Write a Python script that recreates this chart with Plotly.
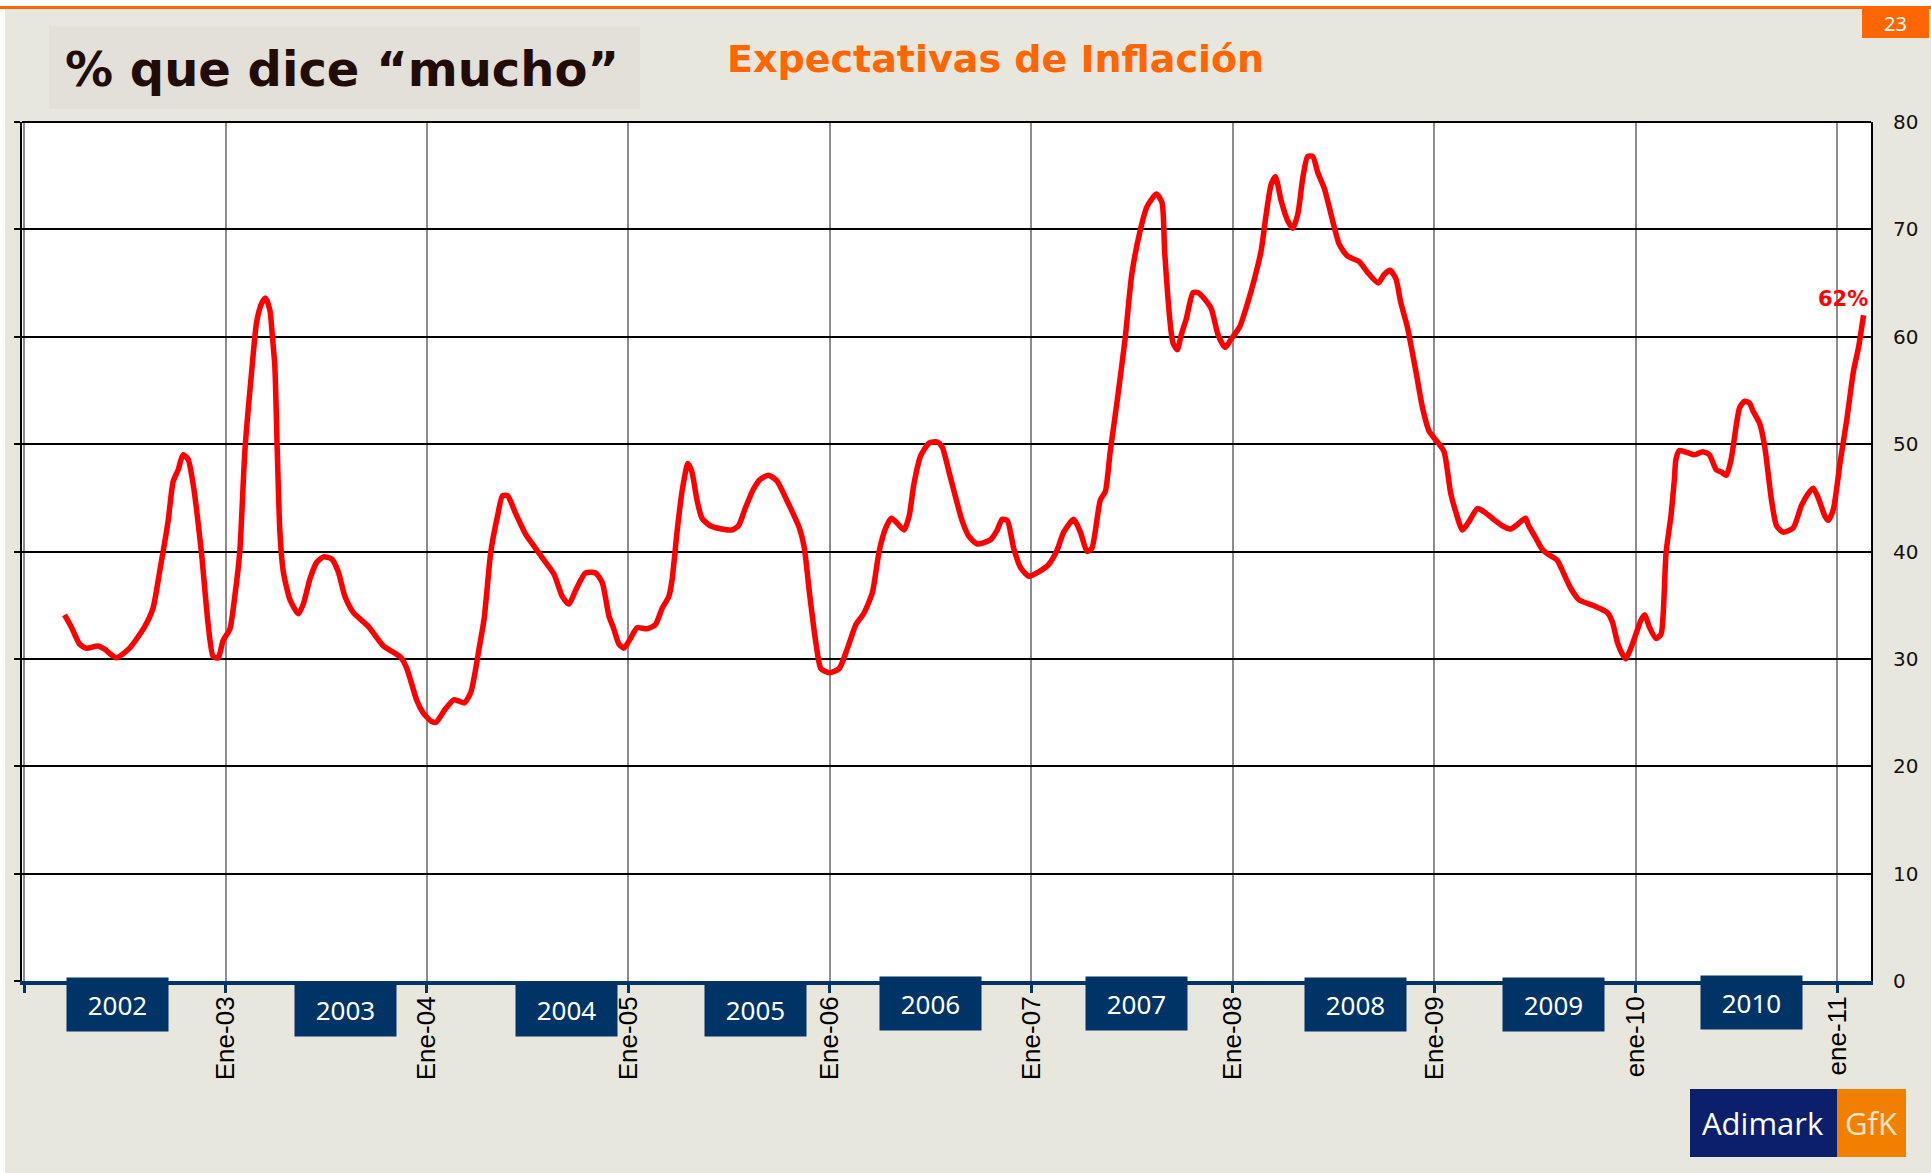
import plotly.graph_objects as go

# ---------------- data (decimal year, % que dice "mucho") ----------------
fecha = [
    2002.201, 2002.234, 2002.275, 2002.308, 2002.366, 2002.400, 2002.458, 2002.524, 2002.599, 2002.640, 2002.673, 2002.715, 2002.740, 2002.765, 2002.789, 2002.814, 2002.839, 2002.880, 2002.914, 2002.939, 2002.964, 2002.988,
    2003.022, 2003.046, 2003.071, 2003.096, 2003.130, 2003.154, 2003.179, 2003.199, 2003.221, 2003.232, 2003.245, 2003.257, 2003.270, 2003.287, 2003.320, 2003.362, 2003.386, 2003.420, 2003.453, 2003.486, 2003.527, 2003.560, 2003.593, 2003.635, 2003.710, 2003.784, 2003.867, 2003.900, 2003.950, 2003.980,
    2004.020, 2004.045, 2004.086, 2004.135, 2004.185, 2004.218, 2004.259, 2004.284, 2004.317, 2004.350, 2004.375, 2004.400, 2004.441, 2004.490, 2004.531, 2004.573, 2004.630, 2004.672, 2004.705, 2004.738, 2004.787, 2004.837, 2004.870, 2004.903, 2004.927, 2004.952, 2004.977,
    2005.010, 2005.043, 2005.092, 2005.134, 2005.167, 2005.200, 2005.216, 2005.241, 2005.266, 2005.295, 2005.315, 2005.340, 2005.365, 2005.406, 2005.464, 2005.513, 2005.546, 2005.579, 2005.620, 2005.653, 2005.695, 2005.736, 2005.785, 2005.848, 2005.873, 2005.898, 2005.931, 2005.955, 2005.997,
    2006.046, 2006.087, 2006.129, 2006.170, 2006.211, 2006.244, 2006.277, 2006.305, 2006.335, 2006.368, 2006.393, 2006.417, 2006.450, 2006.492, 2006.533, 2006.558, 2006.591, 2006.616, 2006.657, 2006.690, 2006.731, 2006.797, 2006.830, 2006.855, 2006.880, 2006.912, 2006.946, 2006.987,
    2007.036, 2007.086, 2007.127, 2007.160, 2007.210, 2007.243, 2007.276, 2007.300, 2007.342, 2007.367, 2007.391, 2007.424, 2007.465, 2007.498, 2007.540, 2007.573, 2007.620, 2007.648, 2007.661, 2007.678, 2007.695, 2007.703, 2007.724, 2007.744, 2007.769, 2007.802, 2007.827, 2007.860, 2007.893, 2007.926, 2007.962, 2007.992,
    2008.033, 2008.074, 2008.107, 2008.140, 2008.165, 2008.190, 2008.211, 2008.239, 2008.272, 2008.297, 2008.322, 2008.347, 2008.371, 2008.396, 2008.421, 2008.454, 2008.487, 2008.528, 2008.569, 2008.627, 2008.668, 2008.721, 2008.751, 2008.780, 2008.809, 2008.833, 2008.866, 2008.908, 2008.941, 2008.974,
    2009.015, 2009.048, 2009.081, 2009.106, 2009.139, 2009.172, 2009.213, 2009.246, 2009.287, 2009.337, 2009.378, 2009.411, 2009.452, 2009.468, 2009.502, 2009.535, 2009.560, 2009.609, 2009.643, 2009.676, 2009.718, 2009.784, 2009.859, 2009.884, 2009.909, 2009.934, 2009.950, 2009.975,
    2010.000, 2010.025, 2010.045, 2010.066, 2010.100, 2010.125, 2010.136, 2010.150, 2010.174, 2010.191, 2010.199, 2010.216, 2010.257, 2010.291, 2010.332, 2010.365, 2010.399, 2010.424, 2010.449, 2010.473, 2010.515, 2010.540, 2010.565, 2010.581, 2010.615, 2010.640, 2010.673, 2010.698, 2010.731, 2010.781, 2010.822, 2010.855, 2010.880, 2010.905, 2010.938, 2010.955, 2010.980,
    2011.013, 2011.047, 2011.080, 2011.105, 2011.130,
]
pct = [
    34.1, 33.0, 31.4, 31.0, 31.2, 30.9, 30.1, 31.0, 33.0, 34.7, 38.1, 42.8, 46.5, 47.6, 49.0, 48.6, 46.3, 40.0, 33.2, 30.2, 30.1, 31.7,
    32.8, 35.8, 40.0, 49.3, 56.8, 61.3, 63.1, 63.6, 62.4, 60.2, 57.2, 49.3, 41.8, 38.1, 35.5, 34.2, 35.1, 37.5, 39.0, 39.5, 39.3, 38.1, 35.8, 34.3, 33.0, 31.2, 30.2, 29.1, 26.1, 25.0,
    24.2, 24.1, 25.2, 26.2, 25.9, 26.9, 31.0, 33.8, 40.0, 43.3, 45.2, 45.2, 43.5, 41.6, 40.5, 39.4, 37.9, 35.8, 35.1, 36.4, 38.0, 38.0, 37.1, 34.0, 32.8, 31.4, 31.0,
    31.9, 32.9, 32.8, 33.2, 34.7, 35.8, 37.3, 41.8, 45.6, 48.2, 47.4, 44.8, 43.1, 42.4, 42.1, 42.0, 42.4, 44.0, 45.8, 46.7, 47.1, 46.6, 44.8, 42.2, 40.3, 36.2, 31.4, 29.1, 28.7,
    29.1, 31.0, 33.2, 34.3, 36.2, 40.0, 42.2, 43.1, 42.6, 42.0, 43.3, 46.3, 48.9, 50.1, 50.2, 49.7, 47.4, 45.6, 42.8, 41.4, 40.7, 41.1, 42.0, 43.0, 42.9, 40.3, 38.5, 37.7,
    38.1, 38.8, 40.1, 41.8, 43.0, 41.8, 40.0, 40.3, 44.8, 45.6, 49.3, 53.8, 59.8, 65.8, 69.9, 72.1, 73.3, 72.5, 68.0, 63.5, 60.2, 59.4, 58.8, 60.2, 61.7, 64.1, 64.1, 63.5, 62.6, 60.2, 59.0, 59.8,
    60.9, 63.2, 65.4, 68.0, 71.4, 74.2, 74.9, 72.7, 70.8, 70.1, 71.4, 74.8, 76.8, 76.8, 75.3, 73.8, 71.4, 68.6, 67.5, 67.0, 66.0, 65.0, 65.8, 66.2, 65.4, 63.2, 60.9, 56.8, 53.4, 51.2,
    50.2, 49.3, 45.4, 43.7, 42.0, 42.8, 44.0, 43.7, 43.1, 42.4, 42.1, 42.5, 43.1, 42.4, 41.3, 40.2, 39.8, 39.2, 37.9, 36.6, 35.5, 35.0, 34.3, 33.4, 31.5, 30.4, 30.0, 31.0,
    32.3, 33.6, 34.1, 33.0, 31.9, 32.3, 34.3, 39.9, 43.3, 46.7, 48.6, 49.4, 49.2, 49.0, 49.3, 49.0, 47.6, 47.4, 47.1, 48.6, 53.4, 54.0, 53.8, 53.1, 51.9, 49.7, 44.8, 42.4, 41.8, 42.2, 44.3, 45.4, 45.9, 45.0, 43.3, 42.9, 43.9,
    48.2, 52.3, 56.8, 59.0, 62.0,
]

tick_years = [2002, 2003, 2004, 2005, 2006, 2007, 2008, 2009, 2010, 2011]
tick_text = ["", "Ene-03", "Ene-04", "Ene-05", "Ene-06", "Ene-07", "Ene-08", "Ene-09", "ene-10", "ene-11"]
y_ticks = [0, 10, 20, 30, 40, 50, 60, 70, 80]
year_labels = ["2002", "2003", "2004", "2005", "2006", "2007", "2008", "2009", "2010"]

# ---------------- layout geometry (pixels) ----------------
W, H = 1931, 1173
PL, PR, PT, PB = 22, 1871, 122, 981


def px(x):
    return (x - PL) / (PR - PL)


def py(y):
    return (PB - y) / (PB - PT)


BEIGE = "#E8E7DD"
NAVY = "#003366"
ORANGE = "#FF6600"

fig = go.Figure()
fig.add_trace(go.Scatter(
    x=fecha, y=pct, mode="lines",
    line=dict(color="#FF0000", width=5.5, shape="spline", smoothing=0.6),
    hoverinfo="skip", showlegend=False,
))
fig.add_trace(go.Scatter(x=[], y=[], yaxis="y2", showlegend=False, hoverinfo="skip"))

shapes = []


def rect(x0, y0, x1, y1, color, layer="below"):
    shapes.append(dict(type="rect", xref="paper", yref="paper",
                       x0=px(x0), x1=px(x1), y0=py(y1), y1=py(y0),
                       fillcolor=color, line=dict(width=0), layer=layer))


rect(0, 0, W, 6, "white")
rect(0, 6, W, 9, ORANGE)
rect(0, 9, 5, H, "white")
rect(49, 26, 640, 109, "#E2E0D8")
rect(1862, 9, 1929, 38, ORANGE)
rect(1690, 1089, 1837, 1157, "#0C1F6C")
rect(1837, 1089, 1906, 1157, "#F28000")
# top border of plot
shapes.append(dict(type="line", xref="paper", yref="paper", x0=0, x1=1, y0=1, y1=1,
                   line=dict(color="black", width=2), layer="above"))

annotations = []


def label(x, y, text, size, color, family="DejaVu Sans", xanchor="center", yanchor="middle"):
    annotations.append(dict(xref="paper", yref="paper", x=px(x), y=py(y), text=text,
                            showarrow=False, xanchor=xanchor, yanchor=yanchor,
                            font=dict(size=size, color=color, family=family)))


label(342, 69, "<b>% que dice “mucho”</b>", 48, "#220C08")
label(995, 59, "<b>Expectativas de Inflación</b>", 38, ORANGE)
label(1895, 23, "23", 20, "white", family="Noto Sans")
label(1763, 1123, "Adimark", 31, "white", family="Open Sans")
label(1871, 1123, "GfK", 31, "#FBE6C8", family="Open Sans")

# year boxes below the axis
box_centers = [117, 345, 566, 755, 930, 1136, 1355, 1553, 1751]
box_tops = [977, 982, 982, 982, 976, 976, 977, 977, 975]
for yl, cx, ty in zip(year_labels, box_centers, box_tops):
    annotations.append(dict(xref="paper", yref="paper", x=px(cx), y=py(ty), text=yl,
                            showarrow=False, xanchor="center", yanchor="top",
                            width=101, height=53, borderpad=0, bgcolor=NAVY,
                            font=dict(size=26, color="white", family="Noto Sans")))

# end label
annotations.append(dict(xref="x", yref="y", x=fecha[-1], y=pct[-1], text="<b>62%</b>",
                        showarrow=False, xanchor="right", yanchor="bottom",
                        xshift=6, yshift=2,
                        font=dict(size=21, color="#FF0000", family="DejaVu Sans")))

fig.update_layout(
    width=W, height=H,
    margin=dict(l=PL, r=W - PR, t=PT, b=H - PB, pad=0),
    paper_bgcolor=BEIGE, plot_bgcolor="white",
    showlegend=False,
    shapes=shapes, annotations=annotations,
    xaxis=dict(
        range=[2001.99, 2011.167], tickmode="array", tickvals=tick_years, ticktext=tick_text,
        tickangle=-90, ticks="outside", ticklen=8, tickwidth=3, tickcolor=NAVY,
        showgrid=True, gridcolor="#8C8C8C", gridwidth=1.5,
        showline=True, linecolor=NAVY, linewidth=4, zeroline=False,
        tickfont=dict(family="Liberation Sans, Arial", size=26, color="black"),
        ticklabelstandoff=-7,
    ),
    yaxis=dict(
        range=[0, 80], side="right", tickmode="array", tickvals=y_ticks,
        showgrid=True, gridcolor="black", gridwidth=1.5,
        showline=True, linecolor="black", linewidth=2, zeroline=False,
        ticks="", tickfont=dict(family="DejaVu Sans", size=20, color="#111111"),
        ticklabelstandoff=16,
    ),
    yaxis2=dict(
        range=[0, 80], overlaying="y", side="left", tickmode="array", tickvals=y_ticks,
        ticks="outside", ticklen=6, tickwidth=1.5, tickcolor="black",
        showticklabels=False, showgrid=False, zeroline=False,
        showline=True, linecolor="black", linewidth=2,
    ),
)

fig.write_html("out.html", config={"displayModeBar": False},
               post_script="document.body.style.margin='0';")
